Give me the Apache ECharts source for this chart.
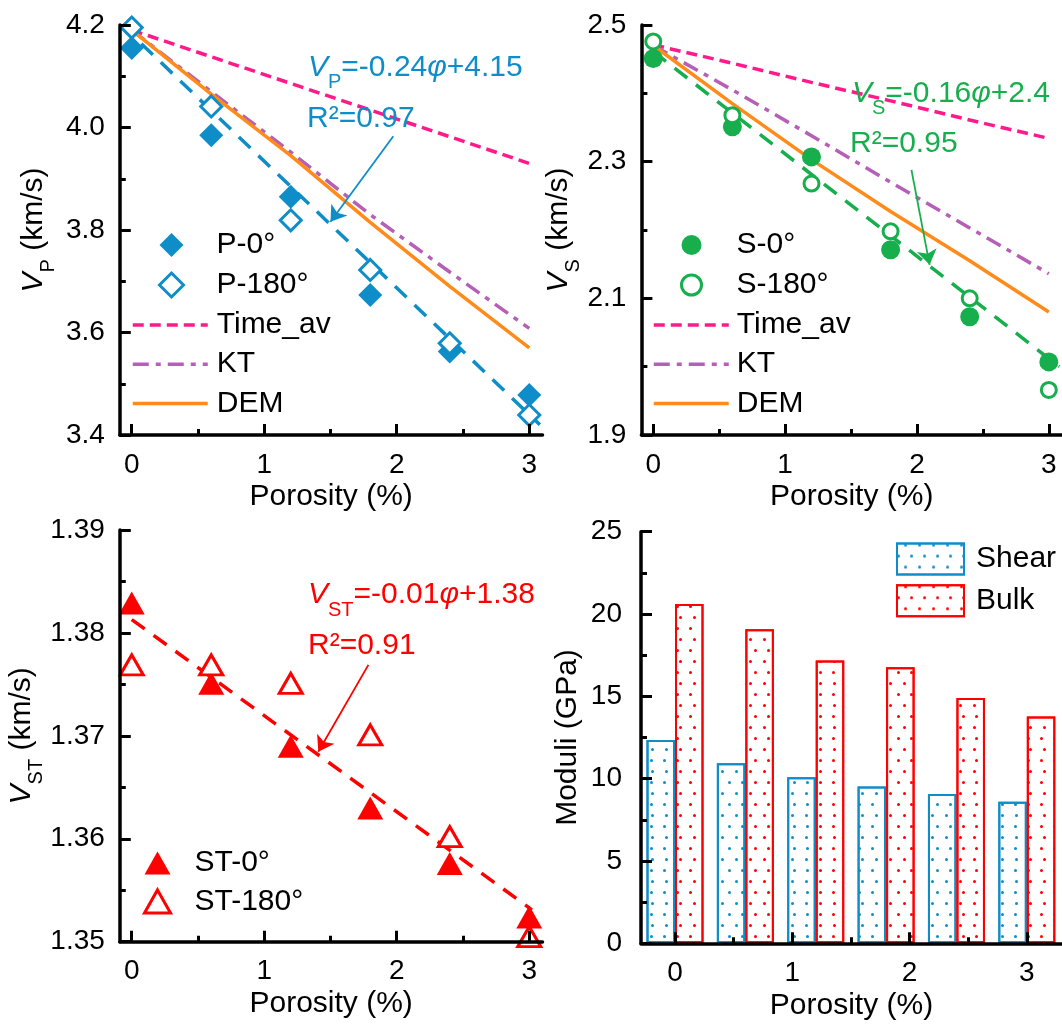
<!DOCTYPE html>
<html>
<head>
<meta charset="utf-8">
<script src="https://cdn.jsdelivr.net/npm/echarts@6.0.0/dist/echarts.min.js"></script>
<style>
html, body { margin: 0; padding: 0; background: #fff; }
#chart { width: 1062px; height: 1024px; }
</style>
</head>
<body>
<div id="chart"></div>
<script>
// porosity (%) of the six samples
var porosity = [0, 0.6, 1.2, 1.8, 2.4, 3.0];

// P wave (km/s)
var p0 = [4.155, 3.985, 3.865, 3.673, 3.563, 3.478];
var p180 = [4.195, 4.041, 3.819, 3.722, 3.579, 3.439];
var pTimeAv = [4.19, 4.138, 4.086, 4.034, 3.982, 3.93];
var pKT = [4.19, 4.07, 3.952, 3.83, 3.718, 3.608];
var pDEM = [4.19, 4.065, 3.945, 3.815, 3.69, 3.57];
var pFitX = [-0.075, 3.08];
var pFitY = [4.2, 3.42];
var pArrow = [[1.974, 3.983], [1.5, 3.816]];

// S wave (km/s)
var s0 = [2.451, 2.351, 2.307, 2.171, 2.073, 2.007];
var s180 = [2.476, 2.368, 2.268, 2.198, 2.1, 1.966];
var sTimeAv = [2.471, 2.444, 2.416, 2.389, 2.361, 2.334];
var sKT = [2.47, 2.405, 2.338, 2.27, 2.203, 2.136];
var sDEM = [2.47, 2.385, 2.303, 2.227, 2.155, 2.08];
var sFitX = [0, 3.08];
var sFitY = [2.461, 2.0];
var sArrow = [[1.958, 2.288], [2.096, 2.149]];

// Stoneley wave (km/s)
var st0 = [1.3829, 1.3751, 1.369, 1.363, 1.3576, 1.3524];
var st180 = [1.3769, 1.3769, 1.3751, 1.3701, 1.3602, 1.3505];
var stFitX = [0, 3.02];
var stFitY = [1.3813, 1.3531];
var stArrow = [[1.786, 1.3769], [1.408, 1.36846]];

// moduli (GPa)
var shear = [12.35, 10.93, 10.09, 9.52, 9.07, 8.6];
var bulk = [20.61, 19.08, 17.17, 16.77, 14.9, 13.77];

var xMajor = [0, 1, 2, 3];
var xMinor = [0.5, 1.5, 2.5];

var FONT = "'Liberation Sans', Arial, sans-serif";
var BLUE = '#0e8dc8', GREEN = '#17ae4d', RED = '#ff0000';
var PINK = '#ff1a8c', PURPLE = '#b55fb6', ORANGE = '#ff8c1a';

function pairs(xs, ys) {
  return xs.map(function (x, i) { return [x, ys[i]]; });
}

function richStyles(color) {
  return {
    v: { fontStyle: 'italic', fontSize: 30, lineHeight: 34, fontFamily: FONT, color: color, verticalAlign: 'middle' },
    s: { fontSize: 20, lineHeight: 20, padding: [22, 0, 0, 0], fontFamily: FONT, color: color, verticalAlign: 'top' },
    n: { fontSize: 30, lineHeight: 34, fontFamily: FONT, color: color, verticalAlign: 'middle' }
  };
}

// rich styles for plain zrender text elements
function zr(color) {
  return {
    v: { fontStyle: 'italic', fontSize: 30, lineHeight: 34, fontFamily: FONT, fill: color, verticalAlign: 'middle' },
    s: { fontSize: 20, lineHeight: 20, padding: [22, 0, 0, 0], fontFamily: FONT, fill: color, verticalAlign: 'top' },
    n: { fontSize: 30, lineHeight: 34, fontFamily: FONT, fill: color, verticalAlign: 'middle' }
  };
}

function xAxes(grid, min, max) {
  return [{
    type: 'value', gridIndex: grid, min: min, max: max, position: 'bottom', z: 10,
    axisLine: { onZero: false, lineStyle: { color: '#000', width: 3.5 } },
    axisTick: { inside: true, length: 11, customValues: xMajor, lineStyle: { color: '#000', width: 3 } },
    axisLabel: { customValues: xMajor, fontSize: 28, color: '#000', fontFamily: FONT, margin: 16 },
    splitLine: { show: false },
    name: 'Porosity (%)', nameLocation: 'middle', nameGap: 47,
    nameTextStyle: { fontSize: 30, color: '#000', fontFamily: FONT }
  }, {
    type: 'value', gridIndex: grid, min: min, max: max, position: 'bottom', z: 10,
    axisLine: { show: false, onZero: false },
    axisTick: { inside: true, length: 6, customValues: xMinor, lineStyle: { color: '#000', width: 3 } },
    axisLabel: { show: false },
    splitLine: { show: false }
  }];
}

function yAxis(grid, min, max, interval, digits, name, gap, rich, margin) {
  return {
    type: 'value', gridIndex: grid, min: min, max: max, interval: interval, z: 10,
    axisLine: { onZero: false, lineStyle: { color: '#000', width: 3.5 } },
    axisTick: { inside: true, length: 11, lineStyle: { color: '#000', width: 3 } },
    minorTick: { show: true, splitNumber: 2, length: 6, lineStyle: { color: '#000', width: 3 } },
    axisLabel: {
      fontSize: 28, color: '#000', fontFamily: FONT, margin: margin,
      formatter: function (v) { return v.toFixed(digits); }
    },
    splitLine: { show: false },
    minorSplitLine: { show: false },
    name: name, nameLocation: 'middle', nameGap: gap,
    nameTextStyle: { fontSize: 30, color: '#000', fontFamily: FONT, rich: rich }
  };
}

function modelLine(name, xi, yi, ys, color, dash) {
  return {
    name: name, type: 'line', xAxisIndex: xi, yAxisIndex: yi, z: 3,
    symbol: 'none', data: pairs(porosity, ys),
    lineStyle: { color: color, width: 3.5, type: dash },
    itemStyle: { color: color }
  };
}

function fitLine(name, xi, yi, xs, ys, color, arrow) {
  return {
    name: name, type: 'line', xAxisIndex: xi, yAxisIndex: yi, z: 3,
    symbol: 'none', data: pairs(xs, ys),
    lineStyle: { color: color, width: 3.5, type: [16, 11] },
    itemStyle: { color: color },
    markLine: {
      silent: true, symbol: ['none', 'arrow'], symbolSize: 15,
      label: { show: false },
      lineStyle: { color: color, width: 1.8, type: 'solid' },
      data: [[{ coord: arrow[0] }, { coord: arrow[1] }]]
    }
  };
}

function dots(name, xi, yi, ys, symbol, size, color, open) {
  return {
    name: name, type: 'scatter', xAxisIndex: xi, yAxisIndex: yi, z: open ? 5 : 4,
    symbol: symbol, symbolSize: size, data: pairs(porosity, ys),
    itemStyle: open ? { color: '#fff', borderColor: color, borderWidth: 3, opacity: 1 } : { color: color, opacity: 1 }
  };
}

function decal(color) {
  return {
    symbol: 'circle', symbolSize: 1, color: color,
    dashArrayX: [[3, 10], [0, 6.5, 3, 3.5]],
    dashArrayY: [3, 8]
  };
}

function legendBox(data, left, top, w, h, gap, pad, extra) {
  var l = {
    data: data, left: left, top: top, orient: 'vertical', padding: 0,
    itemWidth: w, itemHeight: h, itemGap: gap, selectedMode: false,
    textStyle: { fontSize: 30, lineHeight: 30, color: '#000', fontFamily: FONT, padding: [0, 0, 0, pad] }
  };
  for (var k in extra) l[k] = extra[k];
  return l;
}

var lineLegend = { itemStyle: { opacity: 0 }, lineStyle: { width: 3.5 } };

var chart = echarts.init(document.getElementById('chart'));

var option = {
  animation: false,
  backgroundColor: '#fff',
  grid: [
    { left: 119.8, top: 25, width: 422.7, height: 410 },
    { left: 641.4, top: 25, width: 423.6, height: 410 },
    { left: 119.8, top: 530, width: 422.7, height: 411.7 },
    { left: 641, top: 531.7, width: 421.5, height: 411.6 }
  ],
  xAxis: [].concat(
    xAxes(0, -0.09, 3.1),
    xAxes(1, -0.09, 3.1),
    xAxes(2, -0.09, 3.1),
    xAxes(3, -0.29, 3.3)
  ),
  yAxis: [
    yAxis(0, 3.4, 4.2, 0.2, 1, '{v|V}{s|P}{n| (km/s)}', 69, richStyles('#000'), 15),
    yAxis(1, 1.9, 2.5, 0.2, 1, '{v|V}{s|S}{n| (km/s)}', 62, richStyles('#000'), 15),
    yAxis(2, 1.35, 1.39, 0.01, 2, '{v|V}{s|ST}{n| (km/s)}', 75, richStyles('#000'), 15),
    yAxis(3, 0, 25, 5, 0, 'Moduli (GPa)', 58, null, 19)
  ],
  legend: [
    legendBox(['P-0°', { name: 'P-180°', itemStyle: { borderWidth: 3 } }], 158, 230, 24, 24, 10, 28),
    legendBox(['Time_av', 'KT', 'DEM'], 131, 310, 75, 14, 9.2, 4, lineLegend),
    legendBox(['S-0°', { name: 'S-180°', itemStyle: { borderWidth: 3 } }], 680, 230, 20, 20, 10, 30),
    legendBox(['Time_av', 'KT', 'DEM'], 652, 310, 75, 14, 9.2, 3, lineLegend),
    legendBox(['ST-0°', { name: 'ST-180°', itemStyle: { borderWidth: 3 } }], 143, 848, 26, 23, 8.4, 19),
    legendBox(['Shear', 'Bulk'], 896, 542.5, 67, 31, 8.7, 7, { icon: 'rect' })
  ],
  series: [
    modelLine('Time_av', 0, 0, pTimeAv, PINK, [11, 6]),
    modelLine('KT', 0, 0, pKT, PURPLE, [16, 7, 5, 7]),
    modelLine('DEM', 0, 0, pDEM, ORANGE, 'solid'),
    fitLine('fitP', 0, 0, pFitX, pFitY, BLUE, pArrow),
    dots('P-0°', 0, 0, p0, 'diamond', 24, BLUE, false),
    dots('P-180°', 0, 0, p180, 'diamond', 21, BLUE, true),

    modelLine('Time_av', 2, 1, sTimeAv, PINK, [11, 6]),
    modelLine('KT', 2, 1, sKT, PURPLE, [16, 7, 5, 7]),
    modelLine('DEM', 2, 1, sDEM, ORANGE, 'solid'),
    fitLine('fitS', 2, 1, sFitX, sFitY, GREEN, sArrow),
    dots('S-0°', 2, 1, s0, 'circle', 19, GREEN, false),
    dots('S-180°', 2, 1, s180, 'circle', 15, GREEN, true),

    fitLine('fitST', 4, 2, stFitX, stFitY, RED, stArrow),
    dots('ST-0°', 4, 2, st0, 'triangle', [26, 23], RED, false),
    dots('ST-180°', 4, 2, st180, 'triangle', [23, 20], RED, true),

    {
      name: 'Shear', type: 'bar', xAxisIndex: 6, yAxisIndex: 3,
      barWidth: 28.5, barGap: '0%',
      data: pairs(porosity, shear),
      itemStyle: { color: '#fff', borderColor: BLUE, borderWidth: 2, decal: decal(BLUE) }
    },
    {
      name: 'Bulk', type: 'bar', xAxisIndex: 6, yAxisIndex: 3,
      barWidth: 28.5, barGap: '0%',
      data: pairs(porosity, bulk),
      itemStyle: { color: '#fff', borderColor: RED, borderWidth: 2, decal: decal(RED) }
    }
  ],
  graphic: [
    { type: 'text', x: 308, y: 67.5, z: 20, style: { text: '{v|V}{s|P}{n|=-0.24}{v|φ}{n|+4.15}', rich: zr(BLUE), verticalAlign: 'middle', align: 'left' } },
    { type: 'text', x: 307, y: 119, z: 20, style: { text: 'R²=0.97', fill: BLUE, font: '30px ' + FONT, verticalAlign: 'middle', align: 'left' } },
    { type: 'text', x: 852, y: 93.3, z: 20, style: { text: '{v|V}{s|S}{n|=-0.16}{v|φ}{n|+2.4}', rich: zr(GREEN), verticalAlign: 'middle', align: 'left' } },
    { type: 'text', x: 850, y: 143.3, z: 20, style: { text: 'R²=0.95', fill: GREEN, font: '30px ' + FONT, verticalAlign: 'middle', align: 'left' } },
    { type: 'text', x: 308, y: 595, z: 20, style: { text: '{v|V}{s|ST}{n|=-0.01}{v|φ}{n|+1.38}', rich: zr(RED), verticalAlign: 'middle', align: 'left' } },
    { type: 'text', x: 308, y: 646, z: 20, style: { text: 'R²=0.91', fill: RED, font: '30px ' + FONT, verticalAlign: 'middle', align: 'left' } }
  ]
};

chart.setOption(option);
</script>
</body>
</html>
